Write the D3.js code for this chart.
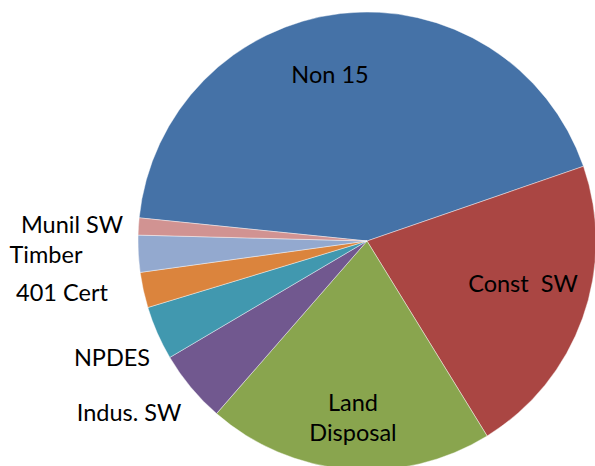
<!DOCTYPE html>
<html>
<head>
<meta charset="utf-8">
<script src="https://cdn.jsdelivr.net/npm/d3@7"></script>
<style>
  body { margin: 0; background: #fff; }
  svg text { font-family: Lato, "Open Sans", sans-serif; fill: #000; white-space: pre; }
</style>
</head>
<body>
<div id="chart"></div>
<script>
// pie data, clockwise from the first slice
var categories = ["Non 15", "Const  SW", "Land Disposal", "Indus. SW", "NPDES", "401 Cert", "Timber", "Munil SW"];
var values = [43.1, 21.5, 20.2, 5.1, 3.8, 2.5, 2.6, 1.2];
var colors = ["#4572A7", "#AA4643", "#89A54E", "#71588F", "#4198AF", "#DB843D", "#93A9CF", "#D19392"];

// label anchors (text centre x, baseline y of first line)
var labelPos = [
  [330, 83], [523, 292], [353, 411], [129, 421],
  [112, 366], [62, 301], [46, 263], [72, 233]
];
var labelLines = [["Non 15"], ["Const  SW"], ["Land", "Disposal"], ["Indus. SW"], ["NPDES"], ["401 Cert"], ["Timber"], ["Munil SW"]];

var svgWidth = 595;
var svgHeight = 466;
var cx = 367, cy = 241, radius = 229;

var svg = d3.select("#chart")
  .append("svg").attr("width", svgWidth).attr("height", svgHeight);

var data = categories.map(function(c, i) { return { name: c, value: values[i], i: i }; });

var start = -84.2 * Math.PI / 180;
var pie = d3.pie()
  .sort(null)
  .value(d => d.value)
  .startAngle(start)
  .endAngle(start + 2 * Math.PI);

var arc = d3.arc().innerRadius(0).outerRadius(radius);

var pieGroup = svg.append("g")
  .attr("transform", `translate(${cx}, ${cy})`);

pieGroup.selectAll("path")
  .data(pie(data))
  .enter()
  .append("path")
  .attr("d", arc)
  .attr("fill", d => colors[d.data.i])
  .attr("stroke", "#ffffff")
  .attr("stroke-opacity", 0.6)
  .attr("stroke-width", 0.7);

var labels = svg.append("g");

labels.selectAll("text")
  .data(data)
  .enter()
  .append("text")
  .attr("text-anchor", "middle")
  .attr("font-size", "23.5px")
  .attr("x", d => labelPos[d.i][0])
  .attr("y", d => labelPos[d.i][1])
  .each(function(d) {
    var t = d3.select(this);
    labelLines[d.i].forEach(function(line, k) {
      t.append("tspan")
        .attr("x", labelPos[d.i][0])
        .attr("dy", k === 0 ? 0 : 30)
        .text(line);
    });
  });
</script>
</body>
</html>
